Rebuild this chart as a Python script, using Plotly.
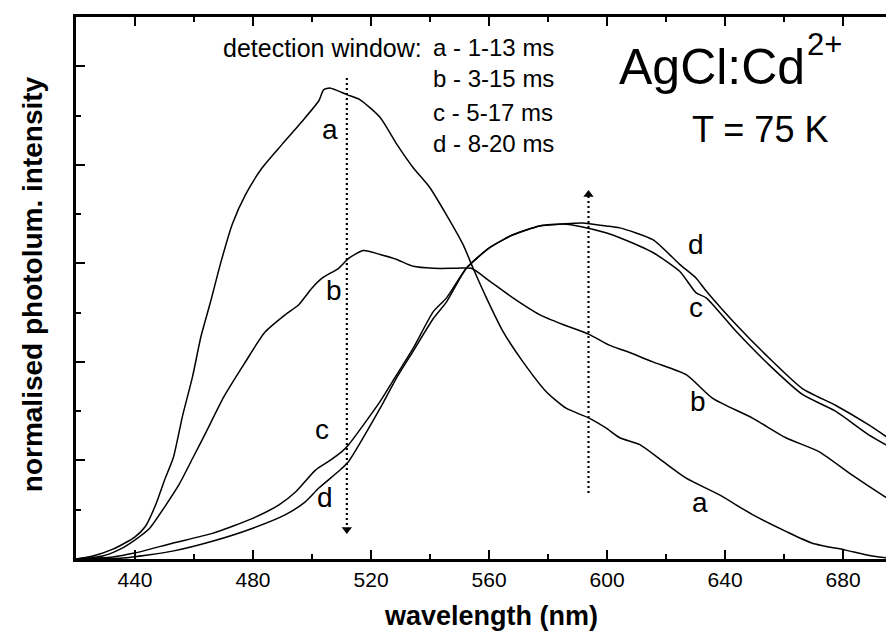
import plotly.graph_objects as go

# wavelength (nm) / normalised intensity for each detection window
a_x = [420.0, 425.7, 432.5, 439.8, 443.5, 447.0, 450.0, 453.0, 456.1, 459.5, 462.3, 465.7, 469.0, 473.0,
       477.5, 483.1, 489.9, 496.6, 502.3, 503.9, 506.0, 508.0, 512.0, 516.3, 523.1, 528.7, 534.3,
       539.9, 545.6, 551.2, 554.6, 559.1, 564.7, 571.5, 579.3, 586.1, 593.9, 599.6, 604.3, 611.1,
       618.9, 626.8, 638.1, 649.3, 660.6, 669.6, 680.8, 689.8, 698.6]
a_y = [0.00, 0.03, 0.10, 0.22, 0.33, 0.55, 0.80, 1.03, 1.45, 1.85, 2.25, 2.62, 3.00, 3.40,
       3.70, 3.97, 4.21, 4.44, 4.65, 4.76, 4.78, 4.76, 4.71, 4.66, 4.48, 4.21, 3.97,
       3.77, 3.49, 3.19, 2.95, 2.65, 2.31, 2.00, 1.70, 1.53, 1.43, 1.33, 1.23, 1.16,
       0.99, 0.82, 0.65, 0.45, 0.28, 0.16, 0.09, 0.03, 0.00]

b_x = [420.0, 429.0, 435.0, 439.8, 444.9, 450.5, 455.0, 459.5, 464.3, 470.0, 477.0, 484.0, 491.0,
       495.5, 500.0, 503.4, 509.0, 512.4, 517.4, 523.1, 528.7, 534.3, 541.1, 548.9, 554.0,
       560.2, 568.1, 577.1, 585.0, 593.9, 600.7, 606.3, 615.5, 626.8, 635.8, 649.3, 660.6,
       671.8, 683.1, 693.2, 698.6]
b_y = [0.00, 0.03, 0.10, 0.19, 0.31, 0.55, 0.76, 1.02, 1.30, 1.64, 1.98, 2.30, 2.48,
       2.58, 2.75, 2.85, 2.95, 3.05, 3.13, 3.09, 3.04, 2.97, 2.95, 2.95, 2.95,
       2.82, 2.65, 2.48, 2.38, 2.28, 2.17, 2.11, 2.00, 1.87, 1.63, 1.43, 1.23,
       1.09, 0.85, 0.65, 0.55]

c_x = [420.0, 432.5, 439.8, 452.7, 466.2, 479.7, 488.8, 494.4, 501.1, 505.6, 510.1, 512.4, 523.1,
       528.7, 534.3, 541.1, 545.6, 552.3, 560.2, 568.1, 577.1, 585.0, 591.7, 599.6, 604.3,
       615.5, 624.6, 630.2, 633.6, 643.7, 654.9, 666.2, 677.4, 688.7, 698.6]
c_y = [0.00, 0.02, 0.06, 0.16, 0.26, 0.41, 0.55, 0.68, 0.90, 0.99, 1.09, 1.16, 1.60,
       1.87, 2.14, 2.51, 2.65, 2.95, 3.16, 3.29, 3.38, 3.40, 3.37, 3.31, 3.26,
       3.11, 2.92, 2.70, 2.65, 2.31, 1.97, 1.67, 1.50, 1.26, 1.09]

d_x = [420.0, 435.9, 452.7, 466.2, 479.7, 491.0, 497.7, 502.3, 509.0, 512.4, 523.1, 528.7, 534.3,
       541.1, 545.6, 552.3, 560.2, 568.1, 577.1, 585.0, 591.7, 599.6, 604.3, 615.5, 624.6,
       630.2, 633.6, 643.7, 654.9, 666.2, 677.4, 688.7, 698.6]
d_y = [0.00, 0.01, 0.08, 0.18, 0.31, 0.45, 0.58, 0.72, 0.89, 0.99, 1.53, 1.84, 2.11,
       2.44, 2.61, 2.95, 3.16, 3.29, 3.38, 3.40, 3.41, 3.38, 3.36, 3.24, 2.99,
       2.85, 2.72, 2.38, 2.04, 1.73, 1.56, 1.36, 1.16]

# dotted arrows (shift of the band with detection window)
down_arrow_x = [511.8, 511.8]
down_arrow_y = [4.88, 0.30]
up_arrow_x = [593.7, 593.7]
up_arrow_y = [0.67, 3.70]

# curve labels
label_text = ["a", "b", "c", "d", "d", "c", "b", "a"]
label_x = [506.2, 507.3, 503.4, 504.5, 630.2, 630.2, 630.7, 631.6]
label_y = [4.36, 2.72, 1.31, 0.62, 3.19, 2.55, 1.60, 0.57]

window_lines = ["a - 1-13 ms", "b - 3-15 ms", "c - 5-17 ms", "d - 8-20 ms"]
window_y = [5.19, 4.876, 4.535, 4.22]

x_tickvals = [440, 480, 520, 560, 600, 640, 680]

FONT = "Liberation Sans, Arial, Helvetica, sans-serif"
fig = go.Figure()

for xs, ys in [(a_x, a_y), (b_x, b_y), (c_x, c_y), (d_x, d_y)]:
    fig.add_trace(go.Scatter(x=xs, y=ys, mode="lines",
                             line=dict(color="black", width=1.5, shape="spline", smoothing=0.6),
                             hoverinfo="skip"))

for xs, ys, sym in [(down_arrow_x, down_arrow_y, "triangle-down"),
                    (up_arrow_x, up_arrow_y, "triangle-up")]:
    fig.add_trace(go.Scatter(x=xs, y=ys, mode="lines",
                             line=dict(color="black", width=2.2, dash="2px,3px"),
                             hoverinfo="skip"))
    fig.add_trace(go.Scatter(x=[xs[-1]], y=[ys[-1]], mode="markers",
                             marker=dict(symbol=sym, size=9, color="black"),
                             hoverinfo="skip"))

annotations = []
for t, x, y in zip(label_text, label_x, label_y):
    annotations.append(dict(x=x, y=y, text=t, showarrow=False, xanchor="center",
                            yanchor="middle", font=dict(family=FONT, size=28, color="black")))

annotations.append(dict(x=537.8, y=window_y[0], text="detection window:", showarrow=False,
                        xanchor="right", yanchor="middle",
                        font=dict(family=FONT, size=25, color="black")))
for t, y in zip(window_lines, window_y):
    annotations.append(dict(x=540.4, y=y, text=t, showarrow=False, xanchor="left",
                            yanchor="middle", font=dict(family=FONT, size=24, color="black")))

annotations.append(dict(x=603.5, y=4.997, text="AgCl:Cd", showarrow=False, xanchor="left",
                        yanchor="middle", font=dict(family=FONT, size=50, color="black")))
annotations.append(dict(x=667.2, y=5.22, text="2+", showarrow=False, xanchor="left",
                        yanchor="middle", font=dict(family=FONT, size=31, color="black")))
annotations.append(dict(x=628.0, y=4.36, text="T = 75 K", showarrow=False, xanchor="left",
                        yanchor="middle", font=dict(family=FONT, size=36, color="black")))

annotations.append(dict(xref="paper", yref="paper", x=0, y=0.507, xshift=-44,
                        text="<b>normalised photolum. intensity</b>", textangle=-90,
                        showarrow=False, xanchor="center", yanchor="middle",
                        font=dict(family=FONT, size=28, color="black")))
annotations.append(dict(xref="paper", yref="paper", x=0.505, y=0, yshift=-57,
                        text="<b>wavelength (nm)</b>", showarrow=False,
                        xanchor="center", yanchor="middle",
                        font=dict(family=FONT, size=27, color="black")))

fig.update_layout(
    width=894, height=632,
    margin=dict(l=68, r=1, t=9, b=81),
    paper_bgcolor="white", plot_bgcolor="white",
    showlegend=False,
    annotations=annotations,
    xaxis=dict(range=[420, 698.6], tickvals=x_tickvals, ticktext=[str(v) for v in x_tickvals],
               ticks="inside", ticklen=9, tickwidth=2, tickcolor="black",
               minor=dict(dtick=20, tick0=420, ticks="inside", ticklen=5, tickwidth=2,
                          tickcolor="black"),
               showline=True, linewidth=2.5, linecolor="black", mirror="ticks",
               showgrid=False, zeroline=False,
               tickfont=dict(family=FONT, size=21, color="black")),
    yaxis=dict(range=[0, 5.5], dtick=1, tick0=0, ticks="inside", ticklen=9, tickwidth=2,
               tickcolor="black", showticklabels=False,
               minor=dict(dtick=0.5, tick0=0, ticks="inside", ticklen=5, tickwidth=2,
                          tickcolor="black"),
               showline=True, linewidth=2.5, linecolor="black", mirror="ticks",
               showgrid=False, zeroline=False),
)

fig.write_html("out.html")
